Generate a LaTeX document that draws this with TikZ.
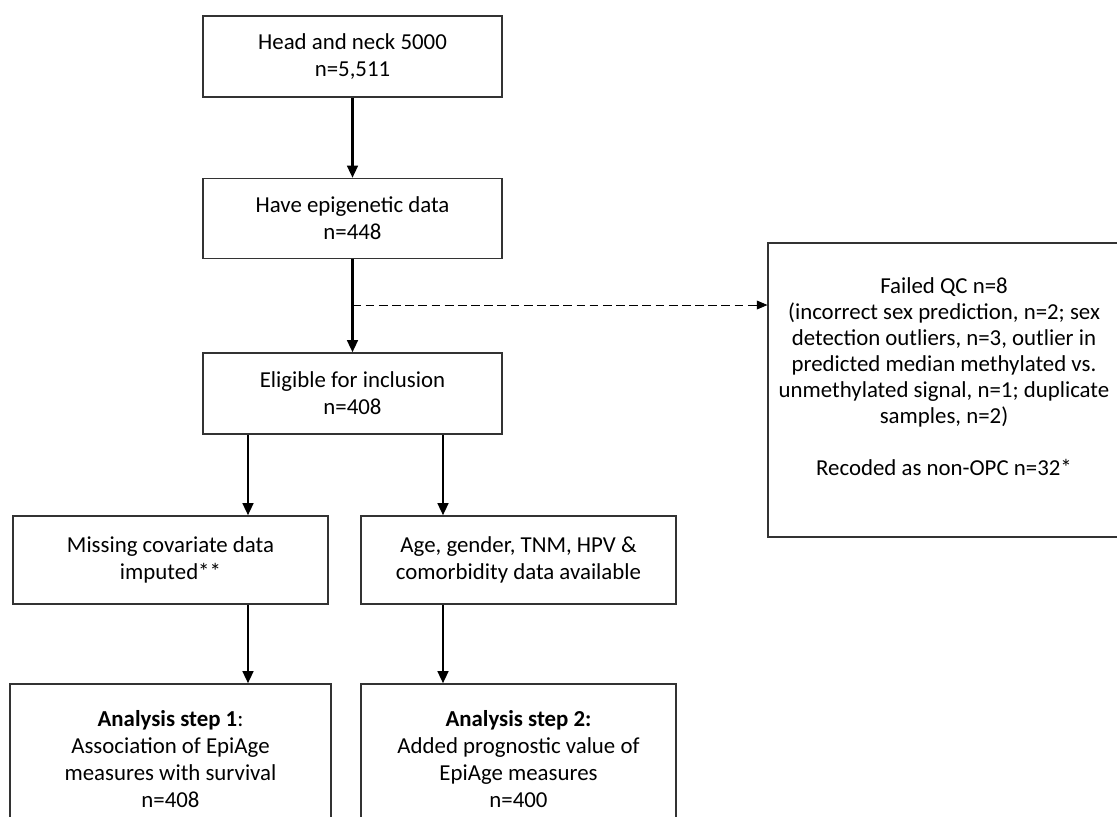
\documentclass[tikz,border=0pt]{standalone}
\usepackage{fontspec}
\setmainfont{Carlito}
\usetikzlibrary{arrows.meta}
\begin{document}
\begin{tikzpicture}[x=0.02cm,y=-0.02cm]
  \tikzstyle{box}=[draw=black!80,line width=0.7pt,align=center,inner sep=2pt,font=\fontsize{13}{15.4}\selectfont]
  \tikzstyle{flow}=[draw,line width=1.6pt,-{Triangle[length=7pt,width=6pt]}]
  \tikzstyle{side}=[draw,line width=0.5pt,dash pattern=on 5pt off 2.5pt,-{Triangle[length=6pt,width=5pt]}]
  \useasboundingbox (0,0) rectangle (1117,816);
  \clip (0,0) rectangle (1117,816);
  % main column
  \node[box,minimum width=5.98cm,minimum height=1.62cm] (head) at (352.5,56.5) {Head and neck 5000\\n=5,511};
  \node[box,minimum width=5.98cm,minimum height=1.60cm] (epi) at (352.5,218.5) {Have epigenetic data\\n=448};
  \node[box,minimum width=5.98cm,minimum height=1.62cm] (elig) at (352.5,393.5) {Eligible for inclusion\\n=408};
  % two branches
  \node[box,minimum width=6.30cm,minimum height=1.76cm] (missing) at (170.5,560) {Missing covariate data\\imputed**};
  \node[box,minimum width=6.30cm,minimum height=1.76cm] (avail) at (518.5,560) {Age, gender, TNM, HPV \&\\comorbidity data available};
  \node[box,minimum width=6.42cm,minimum height=3.00cm] (step1) at (170.5,759) {\textbf{Analysis step 1}:\\Association of EpiAge\\measures with survival\\n=408};
  \node[box,minimum width=6.30cm,minimum height=3.00cm] (step2) at (518.5,759) {\textbf{Analysis step 2:}\\Added prognostic value of\\EpiAge measures\\n=400};
  % exclusions
  \node[box,minimum width=7.08cm,minimum height=5.88cm] (qc) at (945,390) {};
  \node[align=center,font=\fontsize{13}{14.8}\selectfont] (qctext) at (944,377) {Failed QC n=8\\(incorrect sex prediction, n=2; sex\\detection outliers, n=3, outlier in\\predicted median methylated vs.\\unmethylated signal, n=1; duplicate\\samples, n=2)\\[14.8pt]Recoded as non-OPC n=32*};
  % arrows
  \coordinate (split) at (352.5,305);
  \coordinate (leftcol) at (248,0);
  \coordinate (rightcol) at (443,0);
  \draw[flow] (head) -- (epi);
  \draw[flow] (epi) -- (elig);
  \draw[side] (split) -- (split -| qc.west);
  \draw[flow] (elig.south -| leftcol) -- (missing.north -| leftcol);
  \draw[flow] (elig.south -| rightcol) -- (avail.north -| rightcol);
  \draw[flow] (missing.south -| leftcol) -- (step1.north -| leftcol);
  \draw[flow] (avail.south -| rightcol) -- (step2.north -| rightcol);
\end{tikzpicture}
\end{document}
